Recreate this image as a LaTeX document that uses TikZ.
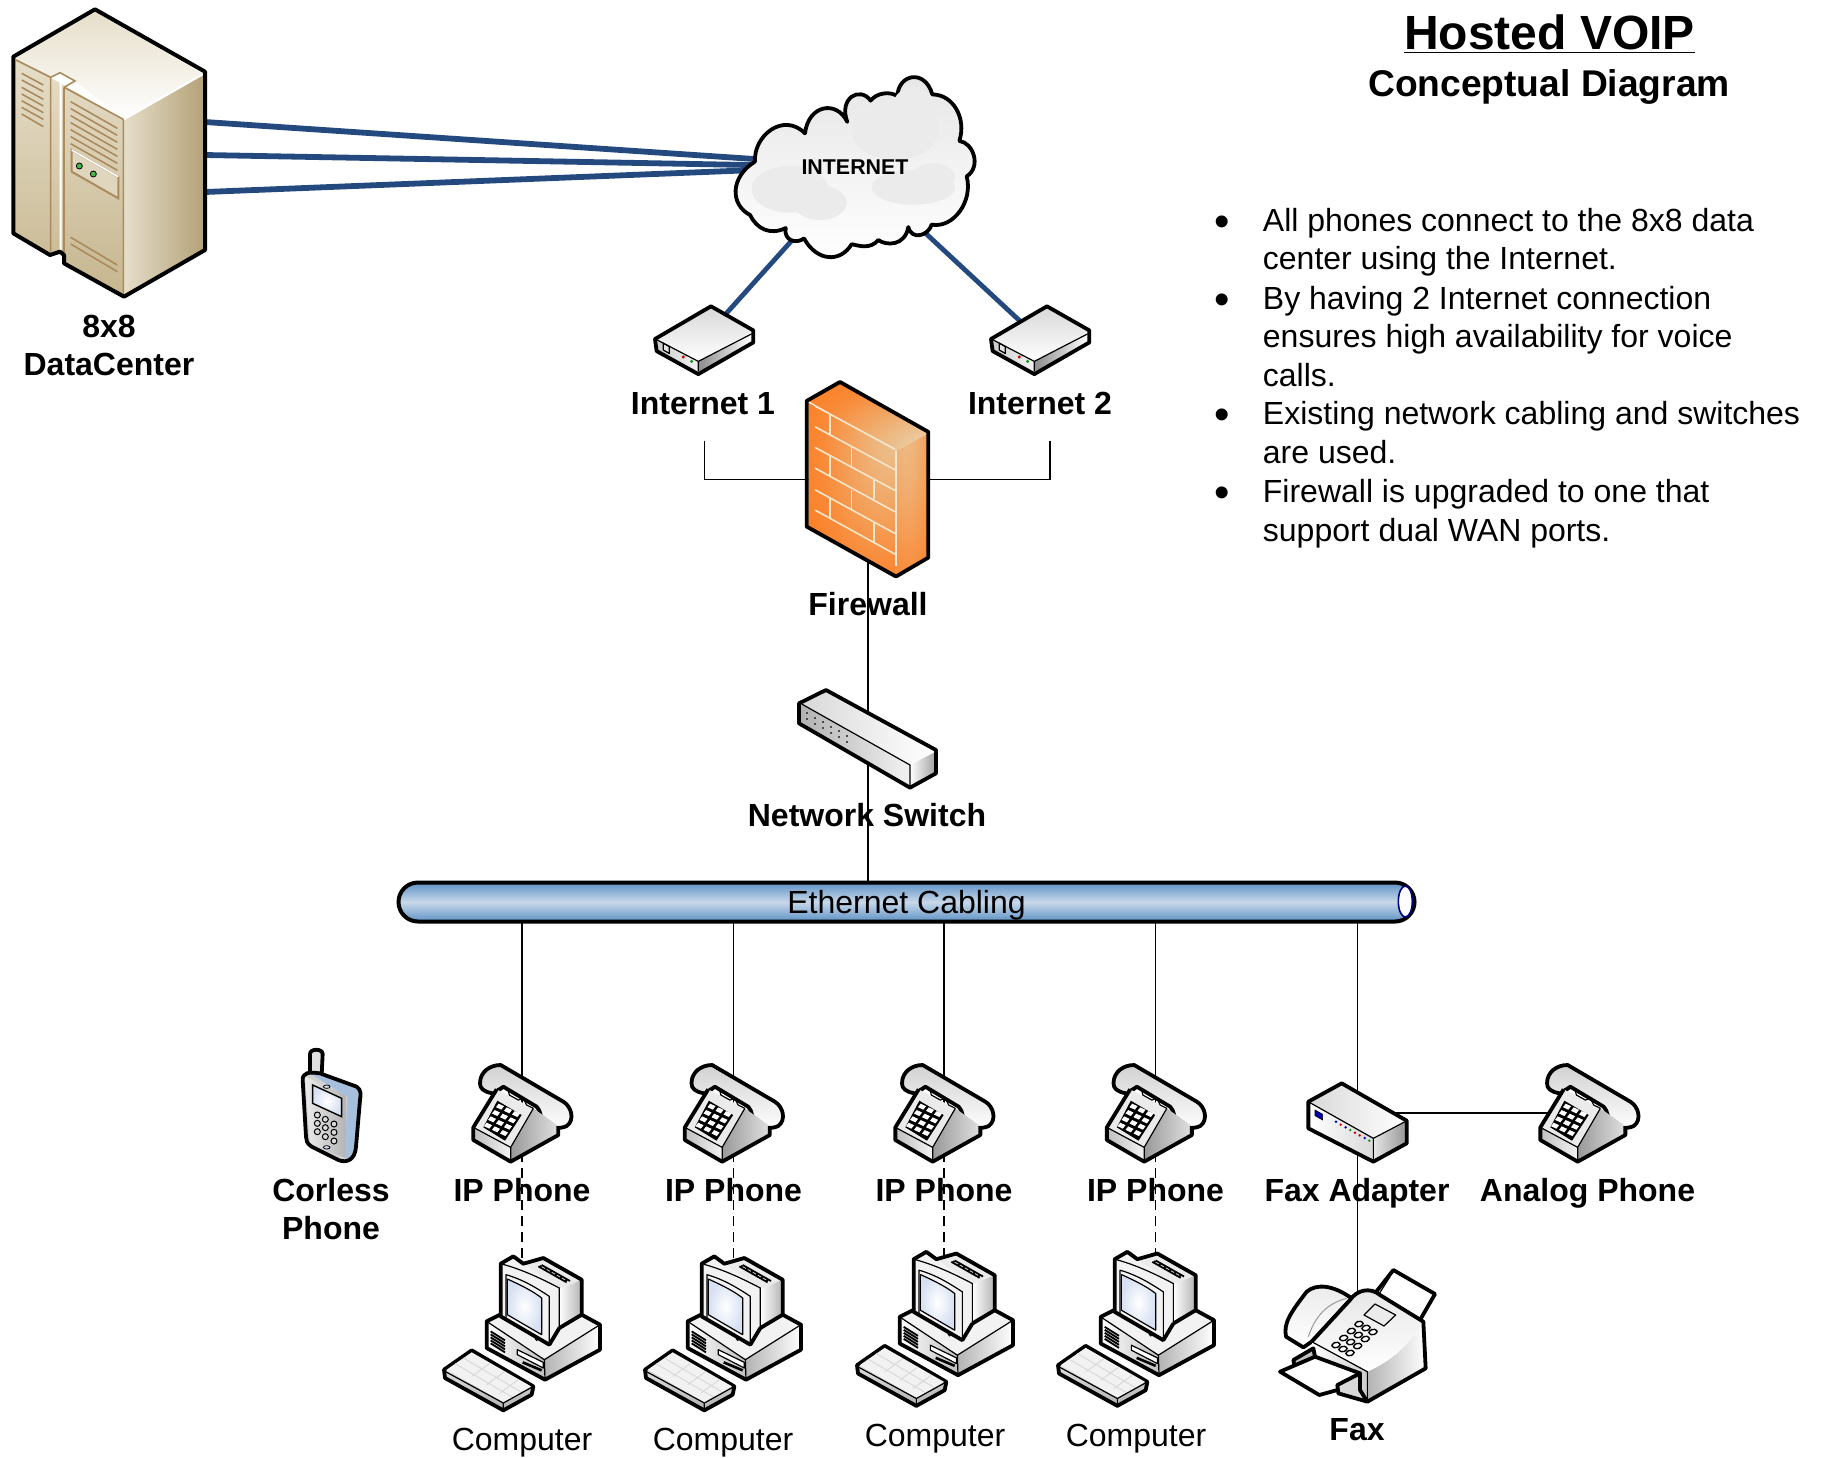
\documentclass[tikz,border=0pt]{standalone}
\usepackage{fontspec}
\setmainfont{Liberation Sans}
\usetikzlibrary{backgrounds,shapes,shapes.misc}
\definecolor{wan}{HTML}{23497F}
\definecolor{tanA}{HTML}{E6DEC9}
\definecolor{tanB}{HTML}{C6B68F}
\definecolor{tanC}{HTML}{B3A177}
\definecolor{tanL}{HTML}{A98B5E}
\definecolor{pipeA}{HTML}{C8D8EA}
\definecolor{pipeB}{HTML}{5E92C4}
\definecolor{brick}{HTML}{FF7312}
\definecolor{brickL}{HTML}{EBC08E}
\definecolor{mortar}{HTML}{F2E6CC}
\definecolor{glass}{HTML}{D6E0F2}
\definecolor{handset}{HTML}{A6BFDD}
\pgfdeclareradialshading{glowfront}{\pgfpoint{22bp}{14bp}}{color(0bp)=(brickL); color(8bp)=(brickL!85!brick); color(32bp)=(brick!70!brickL); color(55bp)=(brick); color(100bp)=(brick)}
\pgfdeclareradialshading{glowtop}{\pgfpoint{35bp}{-30bp}}{color(0bp)=(mortar); color(18bp)=(brickL); color(42bp)=(brick!70!brickL); color(65bp)=(brick); color(100bp)=(brick)}
\pgfdeclareradialshading{glowside}{\pgfpoint{-10bp}{30bp}}{color(0bp)=(brickL); color(20bp)=(brickL!75!brick); color(42bp)=(brick!65!brickL); color(65bp)=(brick); color(100bp)=(brick)}
\tikzset{
  spot/.style={inner sep=0pt,minimum size=0pt},
  dev/.style={draw=black,line width=1.9pt,line join=round},
  fine/.style={draw=black,line width=.6pt,line join=round},
  vent/.style={draw=tanL,line width=.8pt},
  lbl/.style={font=\bfseries\fontsize{16}{18.6}\selectfont,align=center,inner sep=0pt},
  txt/.style={font=\fontsize{16}{18.6}\selectfont,inner sep=0pt},
  notes/.style={anchor=north west,align=left,inner sep=0pt,font=\fontsize{16}{19.3}\selectfont},
  phone/.pic={
    \begin{scope}[scale=1/3,shift={(-756,-240)}]
    \shade[dev,top color=black!18,bottom color=white] (630,130) .. controls (630,95) and (660,75) .. (692,75) -- (880,185) .. controls (905,200) and (915,240) .. (890,258) .. controls (870,268) and (835,265) .. (820,250) .. controls (810,235) and (815,215) .. (800,200) -- (700,140) .. controls (685,150) and (680,160) .. (668,160) .. controls (640,155) and (630,145) .. (630,130) -- cycle;
    \shade[left color=black!40,right color=black!12] (722,322) -- (790,205) -- (865,258) -- (865,285) -- (722,365) -- cycle;
    \shade[left color=black!25,right color=black!5] (610,262) -- (722,322) -- (722,365) -- (610,300) -- cycle;
    \fill[black!8] (610,262) -- (680,148) -- (790,205) -- (722,322) -- cycle;
    \draw[fine] (680,148) -- (695,140) -- (715,152) -- (718,165) -- (745,180) -- (760,175) -- (770,195) -- (790,205);
    \fill[black] (682,182) -- (755,225) -- (705,302) -- (640,262) -- cycle;
    \foreach \i in {0,...,3} \foreach \j in {0,1,2}
      \fill[white,shift={(690+24*\j-12*\i,200+11*\j+19*\i)}] (-4,-9) -- (12,-1.5) -- (4,9) -- (-12,1.5) -- cycle;
    \draw[fine] (610,262) -- (722,322) -- (722,365) (722,322) -- (790,205);
    \draw[dev] (680,148) -- (610,262) -- (610,300) -- (722,365) -- (865,285) -- (865,258);
    \end{scope}
  },
  computer/.pic={
    \begin{scope}[scale=1/3,shift={(-756,-850)}]
    \shade[left color=black!30,right color=white] (823,960) -- (990,855) -- (990,930) -- (825,1020) -- cycle;
    \shade[left color=white,right color=black!25] (650,845) -- (823,960) -- (825,1020) -- (650,925) -- cycle;
    \fill[black!5] (650,845) -- (690,825) -- (935,825) -- (990,855) -- (823,960) -- cycle;
    \draw[line width=.9pt] (662,875) -- (705,902) (662,884) -- (705,911) (662,893) -- (705,920) (662,902) -- (705,929) (662,911) -- (705,938);
    \draw[fine,fill=white] (742,930) -- (820,968) -- (820,985) -- (742,945) -- cycle;
    \draw[line width=1.3pt] (758,968) -- (815,992);
    \draw[fine] (650,845) -- (823,960) -- (825,1020) (823,960) -- (990,855);
    \draw[dev] (690,825) -- (650,845) -- (650,925) -- (825,1020) -- (990,930) -- (990,855) -- (935,825);
    \fill[black!8] (760,672) -- (820,655) -- (935,720) -- (868,748) -- cycle;
    \draw[line width=.9pt] (805,680) -- (890,728) (815,676) -- (900,724);
    \draw[line width=.9pt,dotted] (810,678) -- (895,726);
    \shade[left color=white,right color=black!30] (868,748) -- (935,720) -- (935,825) -- (868,865) -- cycle;
    \fill[black!5] (692,672) -- (730,650) -- (760,672) -- (868,745) -- (868,870) -- (838,915) -- (692,830) -- cycle;
    \draw[fine] (692,672) .. controls (760,690) and (820,720) .. (868,745) -- (868,870);
    \draw[fine] (708,705) .. controls (760,720) and (800,745) .. (838,770) -- (838,915) -- (708,838) -- cycle;
    \shade[inner color=white,outer color=glass] (712,718) .. controls (750,735) and (790,755) .. (815,775) -- (815,885) -- (712,825) -- cycle;
    \draw[fine] (712,718) .. controls (750,735) and (790,755) .. (815,775) -- (815,885) -- (712,825) -- cycle;
    \filldraw[fill=green!60!black,line width=.3pt] (800,898) circle (5);
    \draw[dev] (868,865) -- (838,915) -- (692,830) -- (692,672) -- (730,650) -- (760,672) -- (820,655) -- (935,720) -- (935,825) -- (868,865);
    \shade[dev,top color=black!5,bottom color=black!30] (522,990) -- (605,932) -- (790,1040) -- (785,1065) -- (700,1112) -- (525,1015) -- cycle;
    \fill[black!5] (530,990) -- (605,938) -- (783,1040) -- (700,1088) -- cycle;
    \draw[black!15,line width=.5pt] (555,972) -- (727,1072) (580,955) -- (752,1056) (605,1010) -- (660,970) (650,1035) -- (705,995) (690,1060) -- (745,1020);
    \draw[fine] (525,995) -- (700,1090) -- (700,1110) (700,1090) -- (785,1043);
    \end{scope}
  },
  modem/.pic={
    \begin{scope}[xscale=1/3,yscale=1/2.904,shift={(-250,-810)}]
    \shade[left color=black!45,right color=white] (235,875) -- (395,795) -- (395,825) -- (235,905) -- cycle;
    \shade[left color=black!20,right color=black!5] (110,812) -- (235,875) -- (235,905) -- (110,845) -- cycle;
    \shade[top color=black!15,bottom color=white] (110,810) -- (273,720) -- (395,790) -- (235,875) -- cycle;
    \draw[fine,fill=black!10] (130,822) -- (148,832) -- (148,852) -- (130,842) -- cycle;
    \fill[red!80!black] (190,862) circle (5);
    \fill[green!60!black] (215,875) circle (5);
    \draw[fine] (110,812) -- (235,875) -- (235,905) (235,875) -- (395,795);
    \draw[dev] (105,810) -- (273,715) -- (400,785) -- (400,820) -- (235,912) -- (110,845) -- cycle;
    \end{scope}
  }
}
\begin{document}
\begin{tikzpicture}[x=0.5pt,y=-0.5pt]
\useasboundingbox (0,0) rectangle (1823,1457);
% anchors of the devices
\begin{scope}[every node/.style={spot}]
    \node (dc) at (110,155) {};
    \node (net) at (855,185) {};
    \node (mod1) at (703.3,339) {};
    \node (mod2) at (1039.3,339) {};
    \node (fw) at (868,479.4) {};
    \node (sw) at (868,750) {};
    \node (ph1) at (522,1120) {};
    \node (ph2) at (733.5,1120) {};
    \node (ph3) at (944,1120) {};
    \node (ph4) at (1155.5,1120) {};
    \node (analog) at (1589,1120) {};
    \node (mobile) at (331,1110) {};
    \node (adapter) at (1357.3,1112.7) {};
    \node (fax) at (1357.3,1360) {};
    \node (pc1) at (522,1323) {};
    \node (pc2) at (723,1323) {};
    \node (pc3) at (935,1318.5) {};
    \node (pc4) at (1136,1318.5) {};
\end{scope}
\coordinate (dc1) at (205,122);
\coordinate (dc2) at (205,155);
\coordinate (dc3) at (205,192);
\coordinate (net1) at (760,159.4);
\coordinate (net2) at (760,165.2);
\coordinate (net3) at (760,169.8);
\coordinate (net4) at (830,198);
\coordinate (net5) at (890,200.2);
\coordinate (t1) at (704.3,440.5);
\coordinate (t2) at (1050,440.5);
% 8x8 server
\begin{scope}[scale=1/3]
    \shade[top color=tanA,bottom color=tanB] (40,170) -- (372,358) -- (372,890) -- (192,790) -- (192,765) -- (180,755) -- (150,765) -- (40,700) -- cycle;
    \shade[left color=tanA,right color=tanC] (372,358) -- (615,215) -- (615,750) -- (372,890) -- cycle;
    \shade[top color=tanA,bottom color=white] (48,172) -- (285,35) -- (610,222) -- (372,358) -- (225,243) -- (180,218) -- (152,232) -- cycle;
    \draw[vent] (48,180) -- (152,232) -- (152,755) (192,262) -- (370,358) -- (370,885) (192,262) -- (192,770) (152,232) -- (180,218) -- (225,243) -- (192,262);
    \draw[white,line width=1pt] (182,225) -- (182,752) (372,358) -- (610,222);
    \draw[vent] (65,220) -- (130,255) (65,240) -- (130,275) (65,262) -- (130,298) (65,282) -- (130,318) (65,302) -- (130,338) (65,322) -- (130,358) (65,342) -- (130,380);
    \draw[vent] (212,305) -- (352,385) (212,326) -- (352,406) (212,347) -- (352,427) (212,368) -- (352,448) (212,389) -- (352,469) (212,410) -- (352,490) (212,431) -- (352,511);
    \draw[vent] (212,712) -- (352,795) (212,732) -- (352,815);
    \draw[vent,fill=tanA!80!tanB,line width=1pt] (215,450) -- (355,530) -- (355,595) -- (215,515) -- cycle;
    \draw[white,line width=.8pt] (215,450) -- (355,530);
    \filldraw[fill=green!45!gray,line width=.4pt] (238,498) circle (9) (280,522) circle (9);
    \draw[dev,line width=2pt] (40,170) -- (285,28) -- (615,215) -- (615,750) -- (372,890) -- (192,790) -- (192,765) -- (180,755) -- (150,765) -- (40,700) -- cycle;
\end{scope}
% cloud
\begin{scope}[shift={(620,60)},xscale=1/3,yscale=1/2.904]
    \shade[dev,top color=black!10,bottom color=white] (405,295) .. controls (400,220) and (490,150) .. (555,213) .. controls (565,130) and (650,115) .. (682,180) .. controls (655,110) and (720,75) .. (752,118) .. controls (770,95) and (810,90) .. (832,105) .. controls (835,40) and (915,25) .. (937,100) .. controls (1000,100) and (1040,170) .. (1018,235) .. controls (1060,240) and (1085,310) .. (1040,338) .. controls (1060,410) and (1000,490) .. (935,478) .. controls (925,510) and (875,525) .. (865,485) .. controls (855,540) and (800,540) .. (775,523) .. controls (750,550) and (720,540) .. (695,535) .. controls (660,590) and (590,585) .. (552,518) .. controls (530,535) and (490,525) .. (497,488) .. controls (450,510) and (410,490) .. (390,450) .. controls (330,420) and (330,340) .. (405,295) -- cycle;
    \fill[black!8] (510,375) ellipse (115 and 68) (600,415) ellipse (80 and 50) (880,370) ellipse (125 and 50) (940,340) ellipse (65 and 40) (825,205) ellipse (130 and 85) (880,130) ellipse (60 and 50);
\end{scope}
% modems
\pic at (mod1) {modem};
\pic at (mod2) {modem};
% firewall
\begin{scope}[shift={(620,60)},xscale=1/3,yscale=1/2.904]
    \shade[shading=glowfront] (565,995) -- (828,1135) -- (828,1495) -- (565,1355) -- cycle;
    \shade[shading=glowside] (828,1135) -- (922,1085) -- (922,1445) -- (828,1495) -- cycle;
    \shade[shading=glowtop] (565,990) -- (660,940) -- (922,1085) -- (828,1135) -- cycle;
    \draw[mortar,line width=.8pt] (585,1005) -- (825,1130) (585,1065) -- (825,1190) (585,1125) -- (825,1250) (585,1185) -- (825,1312) (585,1248) -- (825,1375) (585,1307) -- (825,1435);
    \draw[mortar,line width=.8pt] (630,1030) -- (630,1090) (695,1125) -- (695,1185) (630,1150) -- (630,1210) (762,1220) -- (762,1275) (695,1250) -- (695,1305) (630,1270) -- (630,1330) (762,1345) -- (762,1400) (828,1135) -- (828,1470);
    \draw[dev] (560,990) -- (660,935) -- (925,1080) -- (925,1445) -- (828,1500) -- (560,1355) -- cycle;
\end{scope}
% switch
\begin{scope}[shift={(780,680)},scale=1/3]
    \shade[left color=white,right color=black!35] (390,255) -- (462,218) -- (462,280) -- (390,318) -- cycle;
    \shade[left color=black!30,right color=black!5] (65,72) -- (390,255) -- (390,318) -- (65,128) -- cycle;
    \shade[left color=black!15,right color=white] (65,72) -- (138,35) -- (462,212) -- (390,255) -- cycle;
    \draw[black!70,line width=1pt,dotted] (82,97) -- (82,122) (106,110) -- (106,135) (130,123) -- (130,148) (154,137) -- (154,162) (178,150) -- (178,175) (202,164) -- (202,189);
    \draw[fine] (65,72) -- (390,255) -- (390,318);
    \draw[dev] (57,70) -- (138,30) -- (468,210) -- (468,280) -- (390,323) -- (57,130) -- cycle;
\end{scope}
% cable
\node[rounded rectangle,draw=black,line width=2pt,minimum width=508pt,minimum height=19.5pt,inner sep=0pt,top color=pipeB,bottom color=pipeB,middle color=pipeA,text height=15pt,text depth=3.5pt,font=\fontsize{16}{18.6}\selectfont] (cable) at (906.5,902) {Ethernet Cabling};
\draw[draw=blue!50!black,line width=.8pt,fill=white] (1405.3,901.5) ellipse (7 and 15.5);
% phones
\pic at (ph1) {phone};
\pic at (ph2) {phone};
\pic at (ph3) {phone};
\pic at (ph4) {phone};
\pic at (analog) {phone};
% computers
\pic at (pc1) {computer};
\pic at (pc2) {computer};
\pic at (pc3) {computer};
\pic at (pc4) {computer};
% cordless handset
\begin{scope}[shift={(270,1040)},scale=1/3]
    \filldraw[dev,fill=black!12] (120,105) -- (120,42) .. controls (120,25) and (158,25) .. (158,42) -- (155,105) -- cycle;
    \fill[black!18] (98,120) .. controls (98,98) and (115,95) .. (150,100) -- (260,140) -- (258,320) .. controls (255,360) and (230,370) .. (205,360) -- (125,320) .. controls (110,310) and (108,300) .. (108,290) -- cycle;
    \shade[left color=black!8,right color=black!30] (105,110) -- (230,165) -- (230,355) -- (120,315) -- cycle;
    \fill[handset] (120,100) -- (150,100) -- (262,142) -- (270,155) -- (258,320) -- (240,355) -- (225,355) -- (232,170) -- cycle;
    \shade[inner color=white,outer color=glass,draw=black,line width=.7pt] (128,135) -- (215,175) -- (215,230) -- (128,190) -- cycle;
    \filldraw[fill=glass,line width=.4pt] (170,140) ellipse (10 and 5) (170,322) ellipse (10 and 5);
    \filldraw[fill=black!15,line width=.5pt] (142,225) circle (9) (166,238) circle (9) (192,252) circle (9) (142,250) circle (9) (166,263) circle (9) (192,277) circle (9) (142,275) circle (9) (166,290) circle (9) (192,303) circle (9);
    \draw[dev] (98,120) .. controls (98,98) and (115,95) .. (150,100) -- (260,140) .. controls (275,150) and (272,165) .. (270,180) -- (258,320) .. controls (255,360) and (230,370) .. (205,360) -- (125,320) .. controls (110,310) and (108,300) .. (108,290) -- cycle;
\end{scope}
% fax adapter
\begin{scope}[shift={(1260,1050)},scale=1/3]
    \shade[left color=black!10,right color=black!40] (340,265) -- (435,215) -- (435,280) -- (340,330) -- cycle;
    \shade[left color=white,right color=black!15] (150,158) -- (340,265) -- (340,330) -- (150,232) -- cycle;
    \shade[left color=black!15,right color=white] (150,158) -- (245,105) -- (435,210) -- (340,265) -- cycle;
    \filldraw[fill=blue!70!black,line width=.3pt] (165,180) -- (188,193) -- (188,210) -- (165,197) -- cycle;
    \fill[blue!70!black] (228,215) circle (4) (257,232) circle (4) (314,264) circle (4);
    \fill[red!80!black] (242,224) circle (4) (285,248) circle (4) (299,256) circle (4);
    \fill[green!60!black] (271,240) circle (4) (328,272) circle (4);
    \draw[fine] (150,158) -- (340,265) -- (340,330) (340,265) -- (435,215);
    \draw[dev] (145,155) -- (245,100) -- (440,212) -- (440,280) -- (340,335) -- (145,235) -- cycle;
\end{scope}
% fax
\begin{scope}[shift={(1260,1050)},scale=1/3]
    \draw[dev,fill=white] (345,730) -- (400,660) -- (525,732) -- (480,810) -- cycle;
    \draw[fine] (355,735) -- (390,680) (485,800) -- (515,755);
    \shade[dev,top color=black!8,bottom color=white] (78,860) .. controls (70,820) and (90,790) .. (140,725) .. controls (170,700) and (220,705) .. (275,745) -- (155,875) -- (130,892) -- cycle;
    \draw[black!40,line width=.5pt] (145,860) .. controls (165,800) and (200,760) .. (260,745);
    \shade[left color=black!30,right color=white] (322,965) .. controls (400,930) and (450,880) .. (490,815) -- (497,955) -- (322,1055) -- cycle;
    \shade[top color=black!10,bottom color=white] (155,875) -- (270,750) .. controls (290,720) and (330,710) .. (360,735) -- (490,815) .. controls (450,880) and (400,930) .. (322,965) -- cycle;
    \shade[left color=white,right color=black!20] (155,875) -- (322,965) -- (322,1055) -- (232,1005) -- (165,920) -- cycle;
    \draw[fine,fill=black!8] (312,795) -- (345,762) -- (407,795) -- (372,828) -- cycle;
    \foreach \i in {0,...,3} \foreach \j in {0,1,2}
      \draw[line width=.7pt,fill=white,rounded corners=1pt,shift={(297+21*\j-23*\i,822+12*\j+21*\i)}] (0,-11) -- (15,-2) -- (0,11) -- (-15,2) -- cycle;
    \draw[dev,fill=black!25] (100,930) -- (160,895) -- (165,920) -- (105,955) -- cycle;
    \draw[dev,fill=white] (60,965) -- (165,920) -- (300,970) -- (232,1020) -- (178,1035) -- cycle;
    \draw[dev,fill=black!15] (232,1005) -- (300,970) -- (300,1020) -- (322,1055) -- (235,1030) -- cycle;
    \draw[fine] (155,875) -- (322,965) -- (322,1055);
    \draw[dev] (155,875) -- (270,750) .. controls (290,720) and (330,710) .. (360,735) -- (490,815) -- (497,955) -- (322,1055);
\end{scope}
% labels
\node[lbl] (dctext) at (109,345.5) {8x8\\DataCenter};
\node[font=\bfseries\fontsize{10.7}{12}\selectfont,inner sep=0pt] (nettext) at (855,167) {INTERNET};
\node[lbl] (mod1text) at (703,403.5) {Internet 1};
\node[lbl] (mod2text) at (1040,403) {Internet 2};
\node[lbl] (fwtext) at (868,604) {Firewall};
\node[lbl] (swtext) at (867,815) {Network Switch};
\node[lbl] (ph1text) at (522,1190) {IP Phone};
\node[lbl] (ph2text) at (733.5,1190) {IP Phone};
\node[lbl] (ph3text) at (944,1190) {IP Phone};
\node[lbl] (ph4text) at (1155.5,1190) {IP Phone};
\node[lbl] (adaptertext) at (1357,1193.5) {Fax Adapter};
\node[lbl] (analogtext) at (1587.5,1193.5) {Analog Phone};
\node[lbl] (mobiletext) at (331,1209) {Corless\\Phone};
\node[lbl] (faxtext) at (1357,1430) {Fax};
\node[txt] (pc1text) at (522,1442.5) {Computer};
\node[txt] (pc2text) at (723,1442.5) {Computer};
\node[txt] (pc3text) at (935,1439) {Computer};
\node[txt] (pc4text) at (1136,1439) {Computer};
\node[font=\bfseries\fontsize{24}{28}\selectfont,inner sep=0pt] (title) at (1549.5,34) {\underline{Hosted VOIP}};
\node[font=\bfseries\fontsize{18.6}{22}\selectfont,inner sep=0pt] (subtitle) at (1549,87) {Conceptual Diagram};
% notes
\node[notes] (note1) at (1262.5,207.8) {All phones connect to the 8x8 data\\center using the Internet.};
\node[notes] (note2) at (1262.5,285.8) {By having 2 Internet connection\\ensures high availability for voice\\calls.};
\node[notes] (note3) at (1262.5,400.8) {Existing network cabling and switches\\are used.};
\node[notes] (note4) at (1262.5,478.8) {Firewall is upgraded to one that\\support dual WAN ports.};
\begin{scope}[every node/.style={font=\fontsize{22}{24}\selectfont,inner sep=0pt}]
    \node (dot1) at (1222,226.5) {\textbullet};
    \node (dot2) at (1222,304.5) {\textbullet};
    \node (dot3) at (1222,419.5) {\textbullet};
    \node (dot4) at (1222,497) {\textbullet};
\end{scope}
% connectors
\begin{scope}[on background layer,every edge/.style={draw=wan,line width=2.9pt}]
    \path [-] (dc1) edge (net1);
    \path [-] (dc2) edge (net2);
    \path [-] (dc3) edge (net3);
\end{scope}
\begin{scope}[on background layer,every edge/.style={draw=wan,line width=2.4pt}]
    \path [-] (net4) edge (mod1);
    \path [-] (net5) edge (mod2);
\end{scope}
\begin{scope}[on background layer,every edge/.style={draw=black,line width=.8pt}]
    \draw[line width=.8pt] (t1) |- (fw);
    \draw[line width=.8pt] (t2) |- (fw);
    \path [-] (fw) edge (sw);
    \path [-] (sw) edge (sw |- cable);
    \path [-] (ph1 |- cable) edge (ph1);
    \path [-] (ph2 |- cable) edge (ph2);
    \path [-] (ph3 |- cable) edge (ph3);
    \path [-] (ph4 |- cable) edge (ph4);
    \path [-] (adapter |- cable) edge (adapter);
    \path [-] (adapter) edge (fax);
    \path [-] (adapter) edge (adapter -| analog);
\end{scope}
\begin{scope}[on background layer,every edge/.style={draw=black,line width=.8pt,dash pattern=on 5pt off 3pt}]
    \path [-] (ph1) edge (ph1 |- pc1);
    \path [-] (ph2) edge (ph2 |- pc2);
    \path [-] (ph3) edge (ph3 |- pc3);
    \path [-] (ph4) edge (ph4 |- pc4);
\end{scope}
\end{tikzpicture}
\end{document}
